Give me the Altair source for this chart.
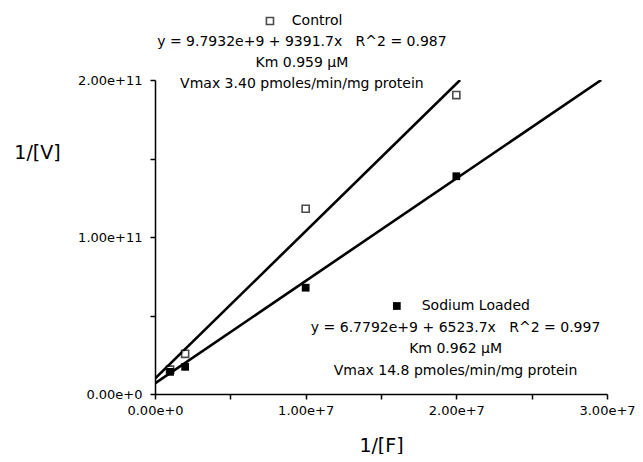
import altair as alt
import pandas as pd

# Measured points (1/[F], 1/[V])
inv_f = [1e6, 2e6, 1e7, 2e7]
control_v = [1.55e10, 2.56e10, 1.18e11, 1.904e11]
sodium_v = [1.41e10, 1.73e10, 6.77e10, 1.387e11]

# Fitted lines (from the reported equations)
control_fit = (9.7932e9, 9391.7)
sodium_fit = (6.7792e9, 6523.7)

x_ticks = [0, 5e6, 1e7, 1.5e7, 2e7, 2.5e7, 3e7]
y_ticks = [0, 2.5e10, 5e10, 7.5e10, 1e11, 1.25e11, 1.5e11, 1.75e11, 2e11]

control_text = ["y = 9.7932e+9 + 9391.7x\u00a0\u00a0\u00a0R^2 = 0.987",
                "Km 0.959 \u03bcM",
                "Vmax 3.40 pmoles/min/mg protein"]
sodium_text = ["y = 6.7792e+9 + 6523.7x\u00a0\u00a0\u00a0R^2 = 0.997",
               "Km 0.962 \u03bcM",
               "Vmax 14.8 pmoles/min/mg protein"]

XMAX, YMAX = 3e7, 2e11
FONT = "DejaVu Sans"

pts = pd.DataFrame({
    "x": inv_f * 2,
    "y": control_v + sodium_v,
    "s": ["Control"] * 4 + ["Sodium Loaded"] * 4,
})

def line_df(fit, name):
    b, m = fit
    xend = min(XMAX, (YMAX - b) / m)
    return pd.DataFrame({"x": [0, xend], "y": [b, b + m * xend], "s": [name, name]})

lines = pd.concat([line_df(control_fit, "Control"), line_df(sodium_fit, "Sodium Loaded")])

xs = alt.Scale(domain=[0, XMAX], nice=False, zero=False)
ys = alt.Scale(domain=[0, YMAX], nice=False, zero=False)

xaxis = alt.Axis(values=x_ticks, format=".2e",
                 labelExpr="datum.value % 10000000 == 0 ? format(datum.value, '.2e') : ''",
                 grid=False, domainColor="black", domainWidth=1.5, tickColor="black",
                 tickWidth=1.5, tickSize=5, labelFont=FONT, labelFontSize=13, labelColor="black",
                 labelPadding=5, title="1/[F]", titleFont=FONT, titleFontSize=19,
                 titleFontWeight="normal", titleColor="black", titlePadding=19,
                 labelFlush=False, labelOverlap=False)
yaxis = alt.Axis(values=y_ticks, format=".2e",
                 labelExpr="datum.value % 100000000000 == 0 ? format(datum.value, '.2e') : ''",
                 grid=False, domainColor="black", domainWidth=1.5, tickColor="black",
                 tickWidth=1.5, tickSize=5, labelFont=FONT, labelFontSize=13, labelColor="black",
                 labelPadding=8, title="1/[V]", titleFont=FONT, titleFontSize=19,
                 titleFontWeight="normal", titleColor="black", titleAngle=0,
                 titleAlign="center", titleBaseline="middle", titleX=-118, titleY=72,
                 labelFlush=False, labelOverlap=False)

line_layer = alt.Chart(lines).mark_line(color="black", strokeWidth=2.6, clip=True).encode(
    x=alt.X("x:Q", scale=xs, axis=xaxis),
    y=alt.Y("y:Q", scale=ys, axis=yaxis),
    detail="s:N",
)

ctrl_pts = alt.Chart(pts[pts.s == "Control"]).mark_point(
    shape="square", size=50, filled=True, fill="white", stroke="black", strokeWidth=1.6
).encode(x=alt.X("x:Q", scale=xs), y=alt.Y("y:Q", scale=ys))

sod_pts = alt.Chart(pts[pts.s == "Sodium Loaded"]).mark_point(
    shape="square", size=60, filled=True, color="black", opacity=1
).encode(x=alt.X("x:Q", scale=xs), y=alt.Y("y:Q", scale=ys))

# Annotation anchors in data units
ann = pd.DataFrame({
    "x": [9.75e6] * 3 + [1.995e7] * 3,
    "y": [2.242e11, 2.108e11, 1.975e11, 4.204e10, 2.866e10, 1.465e10],
    "t": control_text + sodium_text,
})
ann_layer = alt.Chart(ann).mark_text(font=FONT, fontSize=14, color="black",
                                     align="center", baseline="middle", clip=False).encode(
    x=alt.X("x:Q", scale=xs), y=alt.Y("y:Q", scale=ys), text="t:N")

heads = pd.DataFrame({"x": [9.08e6, 1.77e7], "y": [2.376e11, 5.605e10],
                      "t": ["Control", "Sodium Loaded"]})
head_layer = alt.Chart(heads).mark_text(font=FONT, fontSize=14, color="black",
                                        align="left", baseline="middle", clip=False).encode(
    x=alt.X("x:Q", scale=xs), y=alt.Y("y:Q", scale=ys), text="t:N")

sym = pd.DataFrame({"x": [7.63e6, 1.605e7], "y": [2.376e11, 5.605e10],
                    "s": ["Control", "Sodium Loaded"]})
sym_ctrl = alt.Chart(sym[sym.s == "Control"]).mark_point(
    shape="square", size=50, filled=True, fill="white", stroke="black", strokeWidth=1.6, clip=False
).encode(x=alt.X("x:Q", scale=xs), y=alt.Y("y:Q", scale=ys))
sym_sod = alt.Chart(sym[sym.s == "Sodium Loaded"]).mark_point(
    shape="square", size=60, filled=True, color="black", opacity=1, clip=False
).encode(x=alt.X("x:Q", scale=xs), y=alt.Y("y:Q", scale=ys))

chart = alt.layer(line_layer, ctrl_pts, sod_pts, ann_layer, head_layer, sym_ctrl, sym_sod).properties(
    width=452, height=314,
    autosize=alt.AutoSizeParams(type="none"),
    padding={"left": 147, "top": 72, "right": 28, "bottom": 60},
    background="white",
).configure_view(stroke=None)

chart.save("out.html", embed_options={"renderer": "svg", "actions": False})
